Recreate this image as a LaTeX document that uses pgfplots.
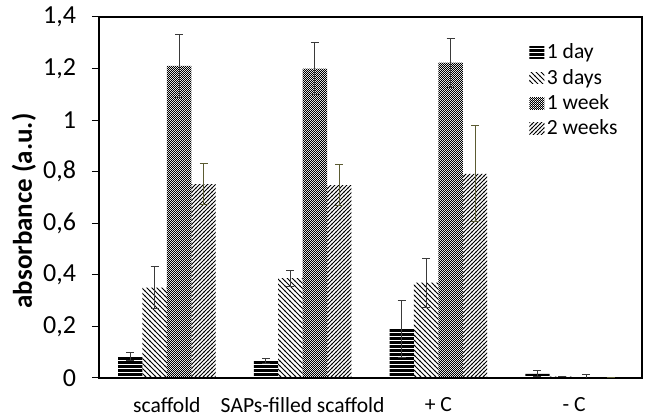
\documentclass[border=0pt]{standalone}
\usepackage{fontspec}
\setmainfont{Carlito}
\usepackage{pgfplots}
\pgfplotsset{compat=1.18}
\usetikzlibrary{patterns}

% patterns at the scale of the picture
\pgfdeclarepatternformonly{hstripes}{\pgfpoint{-0.2bp}{0bp}}{\pgfpoint{4.2bp}{2bp}}{\pgfpoint{4bp}{2bp}}{
  \pgfpathrectangle{\pgfpoint{-0.2bp}{0bp}}{\pgfpoint{4.4bp}{1.35bp}}\pgfusepath{fill}}
\pgfdeclarepatternformonly{nwlines}{\pgfpoint{-0.5bp}{-0.5bp}}{\pgfpoint{3bp}{3bp}}{\pgfpoint{2.5bp}{2.5bp}}{
  \pgfsetlinewidth{0.5bp}\pgfpathmoveto{\pgfpoint{-0.2bp}{2.7bp}}\pgfpathlineto{\pgfpoint{2.7bp}{-0.2bp}}\pgfusepath{stroke}}
\pgfdeclarepatternformonly{nelines}{\pgfpoint{-0.5bp}{-0.5bp}}{\pgfpoint{2.5bp}{2.5bp}}{\pgfpoint{2bp}{2bp}}{
  \pgfsetlinewidth{0.42bp}\pgfpathmoveto{\pgfpoint{-0.2bp}{-0.2bp}}\pgfpathlineto{\pgfpoint{2.2bp}{2.2bp}}\pgfusepath{stroke}}
\pgfdeclarepatternformonly{checker}{\pgfpointorigin}{\pgfpoint{1.2bp}{1.2bp}}{\pgfpoint{1.2bp}{1.2bp}}{
  \pgfpathrectangle{\pgfpoint{0bp}{0bp}}{\pgfpoint{0.6bp}{0.6bp}}
  \pgfpathrectangle{\pgfpoint{0.6bp}{0.6bp}}{\pgfpoint{0.6bp}{0.6bp}}\pgfusepath{fill}}

\definecolor{errgray}{HTML}{3A3A3A}
\definecolor{errolive}{HTML}{5B5B32}

\pgfplotstableread{
x y err
0 0.083 0.014
1 0.067 0.010
2 0.190 0.110
3 0.016 0.012
}\oneday
\pgfplotstableread{
x y err
0 0.350 0.082
1 0.387 0.031
2 0.370 0.095
3 0.005 0.000
}\threedays
\pgfplotstableread{
x y err
0 1.210 0.123
1 1.200 0.100
2 1.223 0.095
3 0.003 0.012
}\oneweek
\pgfplotstableread{
x y err
0 0.752 0.078
1 0.748 0.080
2 0.792 0.186
3 0.002 0.000
}\twoweeks

\begin{document}
\begin{tikzpicture}
\begin{axis}[
  scale only axis,
  width=271.5bp, height=180.5bp,
  ybar=0pt, bar width=0.18,
  xmin=-0.5, xmax=3.5,
  ymin=0, ymax=1.4,
  ytick={0,0.2,...,1.4},
  xtick={0,1,2,3},
  xticklabels={scaffold, SAPs-filled scaffold, + C, - C},
  xtick style={draw=none},
  ytick pos=left,
  tick align=outside,
  major tick length=3.5bp,
  ytick style={black, line width=0.5bp},
  axis line style={black, line width=0.6bp},
  /pgf/number format/.cd, use comma, assume math mode=true,
  /pgfplots/.cd,
  yticklabel style={font=\fontsize{13bp}{15bp}\selectfont, xshift=-4.5bp},
  xticklabel style={font=\fontsize{10.8bp}{13bp}\selectfont, yshift=-2.5bp},
  ylabel={absorbance (a.u.)},
  ylabel style={font=\bfseries\fontsize{13.5bp}{16bp}\selectfont,
    at={([xshift=-37.5bp,yshift=-6.75bp]axis description cs:0,0.5)}, anchor=center},
  legend style={draw=none, fill=none, at={(rel axis cs:0.781,0.945)}, anchor=north west,
    font=\fontsize{10.8bp}{13bp}\selectfont, row sep=1.3bp,
    nodes={inner sep=1.2bp}},
  legend cell align=left,
  legend image code/.code={\fill[#1] (0bp,-2.8bp) rectangle (7.5bp,3bp);},
  error bars/y dir=both, error bars/y explicit,
]
\addplot[draw=none, pattern=hstripes, pattern color=black,
  error bars/error bar style={errgray, line width=0.5bp},
  error bars/error mark options={rotate=90, mark size=2bp, line width=0.5bp, errgray}]
  table[x=x, y=y, y error=err] {\oneday};
\addplot[draw=none, pattern=nwlines, pattern color=black,
  error bars/error bar style={errgray, line width=0.5bp},
  error bars/error mark options={rotate=90, mark size=2bp, line width=0.5bp, errgray}]
  table[x=x, y=y, y error=err] {\threedays};
\addplot[draw=none, pattern=checker, pattern color=black,
  error bars/error bar style={errgray, line width=0.5bp},
  error bars/error mark options={rotate=90, mark size=2bp, line width=0.5bp, errgray}]
  table[x=x, y=y, y error=err] {\oneweek};
\addplot[draw=none, pattern=nelines, pattern color=black,
  error bars/error bar style={errolive, line width=0.5bp},
  error bars/error mark options={rotate=90, mark size=2bp, line width=0.5bp, errolive}]
  table[x=x, y=y, y error=err] {\twoweeks};
\legend{1 day, 3 days, 1 week, 2 weeks}
\end{axis}
\pgfresetboundingbox
\path (current axis.south west) ++(-49.5bp,-19bp) coordinate (bbA);
\path (current axis.north east) ++(10.5bp,8.5bp) coordinate (bbB);
\useasboundingbox (bbA) rectangle (bbB);
\end{tikzpicture}
\end{document}
